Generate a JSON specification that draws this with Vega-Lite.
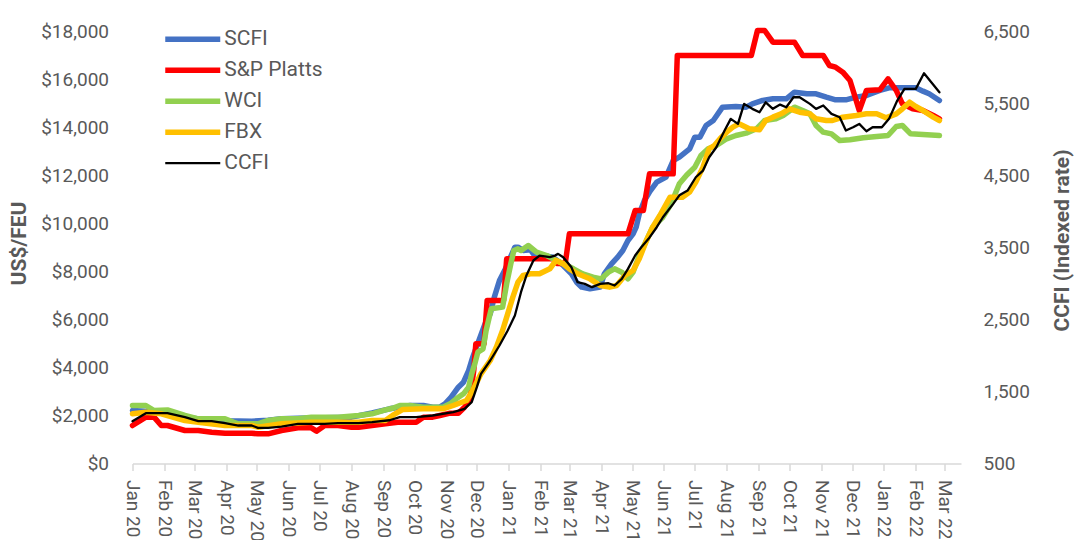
{
  "$schema": "https://vega.github.io/schema/vega-lite/v6.json",
  "width": 828.5,
  "height": 432.5,
  "autosize": {"type": "none"},
  "padding": {"left": 132.5, "top": 31, "right": 114, "bottom": 76.5},
  "background": "white",
  "config": {
    "view": {"stroke": null},
    "font": "Roboto",
    "axis": {"labelColor": "#595959", "titleColor": "#595959", "labelFontSize": 19, "grid": false, "labelFont": "Roboto", "titleFont": "Roboto"},
    "legend": {
      "orient": "none", "legendX": 29.75, "legendY": -7, "title": null, "columns": 1,
      "symbolType": "stroke", "symbolSize": 3025, "labelFontSize": 21, "labelColor": "#595959",
      "labelOffset": 1, "rowPadding": 0, "clipHeight": 30.3, "padding": 0, "labelFont": "Roboto"
    }
  },
  "datasets": {
    "left": [
      {"s":"SCFI","d":"2020-01-01","v":2206},{"s":"SCFI","d":"2020-01-22","v":2150},{"s":"SCFI","d":"2020-02-04","v":2100},{"s":"SCFI","d":"2020-02-21","v":1950},{"s":"SCFI","d":"2020-03-05","v":1850},{"s":"SCFI","d":"2020-03-31","v":1780},{"s":"SCFI","d":"2020-04-26","v":1760},{"s":"SCFI","d":"2020-05-12","v":1800},{"s":"SCFI","d":"2020-05-25","v":1860},{"s":"SCFI","d":"2020-06-10","v":1880},{"s":"SCFI","d":"2020-07-06","v":1900},{"s":"SCFI","d":"2020-08-01","v":1930},{"s":"SCFI","d":"2020-08-21","v":2100},{"s":"SCFI","d":"2020-09-07","v":2275},{"s":"SCFI","d":"2020-09-27","v":2414},{"s":"SCFI","d":"2020-10-10","v":2414},{"s":"SCFI","d":"2020-10-19","v":2344},{"s":"SCFI","d":"2020-10-26","v":2344},{"s":"SCFI","d":"2020-10-31","v":2483},{"s":"SCFI","d":"2020-11-06","v":2761},{"s":"SCFI","d":"2020-11-13","v":3177},{"s":"SCFI","d":"2020-11-18","v":3385},{"s":"SCFI","d":"2020-11-23","v":3871},{"s":"SCFI","d":"2020-11-27","v":4426},{"s":"SCFI","d":"2020-12-03","v":5119},{"s":"SCFI","d":"2020-12-09","v":5813},{"s":"SCFI","d":"2020-12-14","v":6229},{"s":"SCFI","d":"2020-12-18","v":6923},{"s":"SCFI","d":"2020-12-23","v":7616},{"s":"SCFI","d":"2020-12-28","v":8033},{"s":"SCFI","d":"2021-01-02","v":8518},{"s":"SCFI","d":"2021-01-07","v":9004},{"s":"SCFI","d":"2021-01-10","v":9004},{"s":"SCFI","d":"2021-01-15","v":8865},{"s":"SCFI","d":"2021-01-22","v":8900},{"s":"SCFI","d":"2021-01-25","v":8727},{"s":"SCFI","d":"2021-02-03","v":8657},{"s":"SCFI","d":"2021-02-13","v":8588},{"s":"SCFI","d":"2021-02-23","v":8241},{"s":"SCFI","d":"2021-03-03","v":7894},{"s":"SCFI","d":"2021-03-08","v":7547},{"s":"SCFI","d":"2021-03-13","v":7339},{"s":"SCFI","d":"2021-03-21","v":7269},{"s":"SCFI","d":"2021-03-31","v":7339},{"s":"SCFI","d":"2021-04-04","v":7894},{"s":"SCFI","d":"2021-04-11","v":8310},{"s":"SCFI","d":"2021-04-17","v":8588},{"s":"SCFI","d":"2021-04-22","v":8865},{"s":"SCFI","d":"2021-04-27","v":9281},{"s":"SCFI","d":"2021-05-02","v":9559},{"s":"SCFI","d":"2021-05-05","v":9836},{"s":"SCFI","d":"2021-05-08","v":10391},{"s":"SCFI","d":"2021-05-13","v":10946},{"s":"SCFI","d":"2021-05-18","v":11300},{"s":"SCFI","d":"2021-05-25","v":11709},{"s":"SCFI","d":"2021-06-03","v":11917},{"s":"SCFI","d":"2021-06-10","v":12611},{"s":"SCFI","d":"2021-06-16","v":12750},{"s":"SCFI","d":"2021-06-26","v":13097},{"s":"SCFI","d":"2021-07-01","v":13582},{"s":"SCFI","d":"2021-07-06","v":13582},{"s":"SCFI","d":"2021-07-12","v":14067},{"s":"SCFI","d":"2021-07-19","v":14275},{"s":"SCFI","d":"2021-07-28","v":14830},{"s":"SCFI","d":"2021-08-10","v":14858},{"s":"SCFI","d":"2021-08-20","v":14830},{"s":"SCFI","d":"2021-08-26","v":14969},{"s":"SCFI","d":"2021-09-05","v":15108},{"s":"SCFI","d":"2021-09-15","v":15178},{"s":"SCFI","d":"2021-09-28","v":15178},{"s":"SCFI","d":"2021-10-06","v":15455},{"s":"SCFI","d":"2021-10-18","v":15386},{"s":"SCFI","d":"2021-10-27","v":15386},{"s":"SCFI","d":"2021-11-06","v":15247},{"s":"SCFI","d":"2021-11-15","v":15136},{"s":"SCFI","d":"2021-11-25","v":15136},{"s":"SCFI","d":"2021-12-05","v":15247},{"s":"SCFI","d":"2021-12-15","v":15316},{"s":"SCFI","d":"2021-12-28","v":15525},{"s":"SCFI","d":"2022-01-06","v":15636},{"s":"SCFI","d":"2022-01-19","v":15636},{"s":"SCFI","d":"2022-02-01","v":15636},{"s":"SCFI","d":"2022-02-08","v":15497},{"s":"SCFI","d":"2022-02-14","v":15386},{"s":"SCFI","d":"2022-02-24","v":15108},
      {"s":"S&P Platts","d":"2020-01-01","v":1582},{"s":"S&P Platts","d":"2020-01-14","v":1928},{"s":"S&P Platts","d":"2020-01-22","v":1928},{"s":"S&P Platts","d":"2020-01-29","v":1582},{"s":"S&P Platts","d":"2020-02-04","v":1582},{"s":"S&P Platts","d":"2020-02-21","v":1373},{"s":"S&P Platts","d":"2020-03-05","v":1373},{"s":"S&P Platts","d":"2020-03-18","v":1304},{"s":"S&P Platts","d":"2020-03-31","v":1262},{"s":"S&P Platts","d":"2020-04-26","v":1262},{"s":"S&P Platts","d":"2020-05-02","v":1235},{"s":"S&P Platts","d":"2020-05-12","v":1235},{"s":"S&P Platts","d":"2020-05-25","v":1373},{"s":"S&P Platts","d":"2020-06-10","v":1484},{"s":"S&P Platts","d":"2020-06-23","v":1484},{"s":"S&P Platts","d":"2020-06-28","v":1346},{"s":"S&P Platts","d":"2020-07-06","v":1582},{"s":"S&P Platts","d":"2020-07-19","v":1582},{"s":"S&P Platts","d":"2020-08-01","v":1512},{"s":"S&P Platts","d":"2020-08-08","v":1512},{"s":"S&P Platts","d":"2020-08-21","v":1582},{"s":"S&P Platts","d":"2020-09-03","v":1651},{"s":"S&P Platts","d":"2020-09-15","v":1720},{"s":"S&P Platts","d":"2020-10-03","v":1720},{"s":"S&P Platts","d":"2020-10-10","v":1928},{"s":"S&P Platts","d":"2020-10-19","v":1928},{"s":"S&P Platts","d":"2020-10-26","v":1998},{"s":"S&P Platts","d":"2020-11-05","v":2095},{"s":"S&P Platts","d":"2020-11-13","v":2095},{"s":"S&P Platts","d":"2020-11-19","v":2344},{"s":"S&P Platts","d":"2020-11-24","v":2622},{"s":"S&P Platts","d":"2020-11-28","v":3871},{"s":"S&P Platts","d":"2020-11-30","v":4981},{"s":"S&P Platts","d":"2020-12-08","v":4981},{"s":"S&P Platts","d":"2020-12-11","v":6784},{"s":"S&P Platts","d":"2020-12-27","v":6784},{"s":"S&P Platts","d":"2020-12-30","v":8518},{"s":"S&P Platts","d":"2021-02-14","v":8518},{"s":"S&P Platts","d":"2021-02-17","v":8324},{"s":"S&P Platts","d":"2021-02-25","v":8324},{"s":"S&P Platts","d":"2021-03-01","v":9559},{"s":"S&P Platts","d":"2021-04-27","v":9559},{"s":"S&P Platts","d":"2021-05-04","v":10530},{"s":"S&P Platts","d":"2021-05-12","v":10530},{"s":"S&P Platts","d":"2021-05-18","v":12056},{"s":"S&P Platts","d":"2021-06-10","v":12056},{"s":"S&P Platts","d":"2021-06-14","v":16981},{"s":"S&P Platts","d":"2021-08-25","v":16981},{"s":"S&P Platts","d":"2021-08-31","v":18021},{"s":"S&P Platts","d":"2021-09-07","v":18021},{"s":"S&P Platts","d":"2021-09-15","v":17536},{"s":"S&P Platts","d":"2021-10-06","v":17536},{"s":"S&P Platts","d":"2021-10-14","v":16981},{"s":"S&P Platts","d":"2021-11-03","v":16981},{"s":"S&P Platts","d":"2021-11-09","v":16565},{"s":"S&P Platts","d":"2021-11-15","v":16496},{"s":"S&P Platts","d":"2021-11-22","v":16288},{"s":"S&P Platts","d":"2021-11-29","v":15941},{"s":"S&P Platts","d":"2021-12-03","v":15386},{"s":"S&P Platts","d":"2021-12-08","v":14692},{"s":"S&P Platts","d":"2021-12-15","v":15525},{"s":"S&P Platts","d":"2021-12-28","v":15553},{"s":"S&P Platts","d":"2022-01-05","v":16010},{"s":"S&P Platts","d":"2022-01-13","v":15525},{"s":"S&P Platts","d":"2022-01-19","v":14969},{"s":"S&P Platts","d":"2022-01-29","v":14761},{"s":"S&P Platts","d":"2022-02-08","v":14692},{"s":"S&P Platts","d":"2022-02-18","v":14484},{"s":"S&P Platts","d":"2022-02-24","v":14345},
      {"s":"WCI","d":"2020-01-01","v":2414},{"s":"WCI","d":"2020-01-14","v":2414},{"s":"WCI","d":"2020-01-22","v":2206},{"s":"WCI","d":"2020-02-04","v":2230},{"s":"WCI","d":"2020-02-21","v":1998},{"s":"WCI","d":"2020-03-05","v":1859},{"s":"WCI","d":"2020-03-31","v":1859},{"s":"WCI","d":"2020-04-08","v":1720},{"s":"WCI","d":"2020-04-13","v":1651},{"s":"WCI","d":"2020-05-02","v":1651},{"s":"WCI","d":"2020-05-12","v":1790},{"s":"WCI","d":"2020-05-25","v":1859},{"s":"WCI","d":"2020-06-10","v":1859},{"s":"WCI","d":"2020-06-23","v":1928},{"s":"WCI","d":"2020-07-19","v":1928},{"s":"WCI","d":"2020-08-08","v":1998},{"s":"WCI","d":"2020-08-21","v":2067},{"s":"WCI","d":"2020-09-03","v":2230},{"s":"WCI","d":"2020-09-10","v":2300},{"s":"WCI","d":"2020-09-17","v":2414},{"s":"WCI","d":"2020-09-27","v":2414},{"s":"WCI","d":"2020-10-10","v":2344},{"s":"WCI","d":"2020-10-29","v":2344},{"s":"WCI","d":"2020-11-05","v":2483},{"s":"WCI","d":"2020-11-11","v":2691},{"s":"WCI","d":"2020-11-18","v":2900},{"s":"WCI","d":"2020-11-23","v":3177},{"s":"WCI","d":"2020-11-26","v":3732},{"s":"WCI","d":"2020-11-29","v":4148},{"s":"WCI","d":"2020-12-02","v":4634},{"s":"WCI","d":"2020-12-07","v":4772},{"s":"WCI","d":"2020-12-10","v":5535},{"s":"WCI","d":"2020-12-15","v":6437},{"s":"WCI","d":"2020-12-26","v":6507},{"s":"WCI","d":"2020-12-30","v":7478},{"s":"WCI","d":"2021-01-03","v":8310},{"s":"WCI","d":"2021-01-06","v":8865},{"s":"WCI","d":"2021-01-10","v":8934},{"s":"WCI","d":"2021-01-13","v":8865},{"s":"WCI","d":"2021-01-20","v":9073},{"s":"WCI","d":"2021-01-28","v":8796},{"s":"WCI","d":"2021-02-07","v":8657},{"s":"WCI","d":"2021-02-13","v":8518},{"s":"WCI","d":"2021-02-23","v":8310},{"s":"WCI","d":"2021-03-05","v":8102},{"s":"WCI","d":"2021-03-14","v":7894},{"s":"WCI","d":"2021-03-24","v":7755},{"s":"WCI","d":"2021-04-01","v":7686},{"s":"WCI","d":"2021-04-08","v":7963},{"s":"WCI","d":"2021-04-14","v":8102},{"s":"WCI","d":"2021-04-21","v":7963},{"s":"WCI","d":"2021-04-27","v":7686},{"s":"WCI","d":"2021-05-02","v":7963},{"s":"WCI","d":"2021-05-08","v":8657},{"s":"WCI","d":"2021-05-15","v":9281},{"s":"WCI","d":"2021-05-21","v":9836},{"s":"WCI","d":"2021-05-31","v":10252},{"s":"WCI","d":"2021-06-08","v":10807},{"s":"WCI","d":"2021-06-16","v":11640},{"s":"WCI","d":"2021-06-23","v":12000},{"s":"WCI","d":"2021-07-01","v":12333},{"s":"WCI","d":"2021-07-07","v":12819},{"s":"WCI","d":"2021-07-14","v":13097},{"s":"WCI","d":"2021-07-22","v":13235},{"s":"WCI","d":"2021-08-01","v":13513},{"s":"WCI","d":"2021-08-10","v":13651},{"s":"WCI","d":"2021-08-20","v":13748},{"s":"WCI","d":"2021-08-30","v":13929},{"s":"WCI","d":"2021-09-07","v":14275},{"s":"WCI","d":"2021-09-18","v":14345},{"s":"WCI","d":"2021-09-25","v":14484},{"s":"WCI","d":"2021-10-06","v":14830},{"s":"WCI","d":"2021-10-14","v":14692},{"s":"WCI","d":"2021-10-21","v":14553},{"s":"WCI","d":"2021-10-27","v":14067},{"s":"WCI","d":"2021-11-03","v":13790},{"s":"WCI","d":"2021-11-11","v":13720},{"s":"WCI","d":"2021-11-19","v":13443},{"s":"WCI","d":"2021-11-29","v":13471},{"s":"WCI","d":"2021-12-12","v":13554},{"s":"WCI","d":"2021-12-25","v":13610},{"s":"WCI","d":"2022-01-05","v":13651},{"s":"WCI","d":"2022-01-13","v":14026},{"s":"WCI","d":"2022-01-19","v":14067},{"s":"WCI","d":"2022-01-27","v":13720},{"s":"WCI","d":"2022-02-08","v":13693},{"s":"WCI","d":"2022-02-24","v":13651},
      {"s":"FBX","d":"2020-01-01","v":2067},{"s":"FBX","d":"2020-01-14","v":2136},{"s":"FBX","d":"2020-01-29","v":2067},{"s":"FBX","d":"2020-02-21","v":1790},{"s":"FBX","d":"2020-03-05","v":1720},{"s":"FBX","d":"2020-03-31","v":1582},{"s":"FBX","d":"2020-04-26","v":1582},{"s":"FBX","d":"2020-05-02","v":1512},{"s":"FBX","d":"2020-05-25","v":1651},{"s":"FBX","d":"2020-06-23","v":1720},{"s":"FBX","d":"2020-08-08","v":1720},{"s":"FBX","d":"2020-08-21","v":1790},{"s":"FBX","d":"2020-09-03","v":1790},{"s":"FBX","d":"2020-09-10","v":2000},{"s":"FBX","d":"2020-09-20","v":2250},{"s":"FBX","d":"2020-10-10","v":2275},{"s":"FBX","d":"2020-10-29","v":2275},{"s":"FBX","d":"2020-11-08","v":2414},{"s":"FBX","d":"2020-11-21","v":2622},{"s":"FBX","d":"2020-11-27","v":3038},{"s":"FBX","d":"2020-12-05","v":3732},{"s":"FBX","d":"2020-12-14","v":4287},{"s":"FBX","d":"2020-12-20","v":4842},{"s":"FBX","d":"2020-12-26","v":5535},{"s":"FBX","d":"2020-12-31","v":6229},{"s":"FBX","d":"2021-01-05","v":6923},{"s":"FBX","d":"2021-01-10","v":7547},{"s":"FBX","d":"2021-01-15","v":7825},{"s":"FBX","d":"2021-01-22","v":7894},{"s":"FBX","d":"2021-01-31","v":7894},{"s":"FBX","d":"2021-02-10","v":8102},{"s":"FBX","d":"2021-02-16","v":8449},{"s":"FBX","d":"2021-02-23","v":8310},{"s":"FBX","d":"2021-03-01","v":8102},{"s":"FBX","d":"2021-03-09","v":7894},{"s":"FBX","d":"2021-03-21","v":7686},{"s":"FBX","d":"2021-03-31","v":7408},{"s":"FBX","d":"2021-04-09","v":7339},{"s":"FBX","d":"2021-04-16","v":7408},{"s":"FBX","d":"2021-04-24","v":7825},{"s":"FBX","d":"2021-05-02","v":8033},{"s":"FBX","d":"2021-05-08","v":8518},{"s":"FBX","d":"2021-05-15","v":9281},{"s":"FBX","d":"2021-05-21","v":9836},{"s":"FBX","d":"2021-05-28","v":10322},{"s":"FBX","d":"2021-06-07","v":11085},{"s":"FBX","d":"2021-06-19","v":11085},{"s":"FBX","d":"2021-06-26","v":11300},{"s":"FBX","d":"2021-07-02","v":11709},{"s":"FBX","d":"2021-07-09","v":12333},{"s":"FBX","d":"2021-07-15","v":13097},{"s":"FBX","d":"2021-07-20","v":13235},{"s":"FBX","d":"2021-07-27","v":13582},{"s":"FBX","d":"2021-08-01","v":13790},{"s":"FBX","d":"2021-08-07","v":13998},{"s":"FBX","d":"2021-08-13","v":14137},{"s":"FBX","d":"2021-08-23","v":13929},{"s":"FBX","d":"2021-09-02","v":13887},{"s":"FBX","d":"2021-09-08","v":14275},{"s":"FBX","d":"2021-09-15","v":14414},{"s":"FBX","d":"2021-09-23","v":14553},{"s":"FBX","d":"2021-10-01","v":14761},{"s":"FBX","d":"2021-10-11","v":14622},{"s":"FBX","d":"2021-10-21","v":14553},{"s":"FBX","d":"2021-10-27","v":14345},{"s":"FBX","d":"2021-11-06","v":14275},{"s":"FBX","d":"2021-11-12","v":14275},{"s":"FBX","d":"2021-11-22","v":14414},{"s":"FBX","d":"2021-12-05","v":14484},{"s":"FBX","d":"2021-12-15","v":14553},{"s":"FBX","d":"2021-12-25","v":14553},{"s":"FBX","d":"2022-01-03","v":14386},{"s":"FBX","d":"2022-01-13","v":14553},{"s":"FBX","d":"2022-01-19","v":14761},{"s":"FBX","d":"2022-01-26","v":15039},{"s":"FBX","d":"2022-02-01","v":14858},{"s":"FBX","d":"2022-02-08","v":14692},{"s":"FBX","d":"2022-02-18","v":14414},{"s":"FBX","d":"2022-02-24","v":14275}
    ],
    "ccfi": [
      {"s":"CCFI","d":"2020-01-01","v":1087},{"s":"CCFI","d":"2020-01-14","v":1198},{"s":"CCFI","d":"2020-02-04","v":1198},{"s":"CCFI","d":"2020-02-21","v":1142},{"s":"CCFI","d":"2020-03-05","v":1087},{"s":"CCFI","d":"2020-03-18","v":1087},{"s":"CCFI","d":"2020-03-31","v":1059},{"s":"CCFI","d":"2020-04-13","v":1027},{"s":"CCFI","d":"2020-04-26","v":1027},{"s":"CCFI","d":"2020-05-02","v":995},{"s":"CCFI","d":"2020-05-12","v":995},{"s":"CCFI","d":"2020-05-25","v":1013},{"s":"CCFI","d":"2020-06-10","v":1051},{"s":"CCFI","d":"2020-07-06","v":1051},{"s":"CCFI","d":"2020-07-19","v":1059},{"s":"CCFI","d":"2020-08-08","v":1059},{"s":"CCFI","d":"2020-08-21","v":1073},{"s":"CCFI","d":"2020-09-07","v":1100},{"s":"CCFI","d":"2020-09-17","v":1142},{"s":"CCFI","d":"2020-10-03","v":1142},{"s":"CCFI","d":"2020-10-19","v":1166},{"s":"CCFI","d":"2020-11-08","v":1212},{"s":"CCFI","d":"2020-11-19","v":1258},{"s":"CCFI","d":"2020-11-26","v":1351},{"s":"CCFI","d":"2020-12-01","v":1559},{"s":"CCFI","d":"2020-12-05","v":1744},{"s":"CCFI","d":"2020-12-14","v":1929},{"s":"CCFI","d":"2020-12-23","v":2137},{"s":"CCFI","d":"2020-12-31","v":2345},{"s":"CCFI","d":"2021-01-07","v":2553},{"s":"CCFI","d":"2021-01-13","v":2880},{"s":"CCFI","d":"2021-01-18","v":3100},{"s":"CCFI","d":"2021-01-25","v":3316},{"s":"CCFI","d":"2021-01-31","v":3385},{"s":"CCFI","d":"2021-02-10","v":3362},{"s":"CCFI","d":"2021-02-15","v":3385},{"s":"CCFI","d":"2021-02-18","v":3408},{"s":"CCFI","d":"2021-02-23","v":3362},{"s":"CCFI","d":"2021-03-03","v":3223},{"s":"CCFI","d":"2021-03-09","v":3015},{"s":"CCFI","d":"2021-03-16","v":2992},{"s":"CCFI","d":"2021-03-23","v":2946},{"s":"CCFI","d":"2021-03-31","v":2992},{"s":"CCFI","d":"2021-04-08","v":3001},{"s":"CCFI","d":"2021-04-14","v":2969},{"s":"CCFI","d":"2021-04-21","v":3062},{"s":"CCFI","d":"2021-04-27","v":3200},{"s":"CCFI","d":"2021-05-04","v":3385},{"s":"CCFI","d":"2021-05-10","v":3500},{"s":"CCFI","d":"2021-05-17","v":3617},{"s":"CCFI","d":"2021-05-25","v":3778},{"s":"CCFI","d":"2021-05-31","v":3916},{"s":"CCFI","d":"2021-06-10","v":4102},{"s":"CCFI","d":"2021-06-16","v":4220},{"s":"CCFI","d":"2021-06-24","v":4287},{"s":"CCFI","d":"2021-07-02","v":4471},{"s":"CCFI","d":"2021-07-09","v":4564},{"s":"CCFI","d":"2021-07-15","v":4749},{"s":"CCFI","d":"2021-07-22","v":4887},{"s":"CCFI","d":"2021-07-30","v":5119},{"s":"CCFI","d":"2021-08-05","v":5281},{"s":"CCFI","d":"2021-08-12","v":5211},{"s":"CCFI","d":"2021-08-18","v":5489},{"s":"CCFI","d":"2021-08-26","v":5420},{"s":"CCFI","d":"2021-09-02","v":5373},{"s":"CCFI","d":"2021-09-08","v":5511},{"s":"CCFI","d":"2021-09-15","v":5420},{"s":"CCFI","d":"2021-09-22","v":5479},{"s":"CCFI","d":"2021-09-28","v":5442},{"s":"CCFI","d":"2021-10-05","v":5581},{"s":"CCFI","d":"2021-10-11","v":5581},{"s":"CCFI","d":"2021-10-21","v":5489},{"s":"CCFI","d":"2021-10-27","v":5420},{"s":"CCFI","d":"2021-11-03","v":5466},{"s":"CCFI","d":"2021-11-11","v":5350},{"s":"CCFI","d":"2021-11-19","v":5303},{"s":"CCFI","d":"2021-11-25","v":5119},{"s":"CCFI","d":"2021-12-02","v":5165},{"s":"CCFI","d":"2021-12-08","v":5211},{"s":"CCFI","d":"2021-12-15","v":5109},{"s":"CCFI","d":"2021-12-21","v":5165},{"s":"CCFI","d":"2021-12-30","v":5165},{"s":"CCFI","d":"2022-01-06","v":5281},{"s":"CCFI","d":"2022-01-14","v":5535},{"s":"CCFI","d":"2022-01-21","v":5697},{"s":"CCFI","d":"2022-02-01","v":5697},{"s":"CCFI","d":"2022-02-09","v":5914},{"s":"CCFI","d":"2022-02-24","v":5650}
    ]
  },
  "encoding": {
    "x": {
      "field": "d", "type": "temporal",
      "scale": {"type": "utc", "domain": ["2020-01-01", "2022-03-17"]},
      "axis": {
        "title": null,
        "values": ["2020-01-01","2020-02-01","2020-03-01","2020-04-01","2020-05-01","2020-06-01","2020-07-01","2020-08-01","2020-09-01","2020-10-01","2020-11-01","2020-12-01","2021-01-01","2021-02-01","2021-03-01","2021-04-01","2021-05-01","2021-06-01","2021-07-01","2021-08-01","2021-09-01","2021-10-01","2021-11-01","2021-12-01","2022-01-01","2022-02-01","2022-03-01"],
        "labelExpr": "utcFormat(datum.value, '%b %y')",
        "labelAngle": 90, "labelAlign": "left", "labelBaseline": "middle",
        "domainColor": "#d9d9d9", "domainWidth": 1.5, "tickColor": "#d9d9d9", "tickWidth": 1.5, "tickSize": 7,
        "labelPadding": 9, "labelOverlap": false, "labelFlush": false
      }
    },
    "color": {
      "field": "s", "type": "nominal",
      "scale": {"domain": ["SCFI", "S&P Platts", "WCI", "FBX", "CCFI"], "range": ["#4472C4", "#FF0000", "#92D050", "#FFC000", "#000000"]}
    },
    "strokeWidth": {
      "field": "s", "type": "nominal",
      "scale": {"type": "ordinal", "domain": ["SCFI", "S&P Platts", "WCI", "FBX", "CCFI"], "range": [5.5, 5.5, 5.5, 5.5, 2.3]}
    }
  },
  "layer": [
    {
      "data": {"name": "left"},
      "mark": {"type": "line", "strokeJoin": "round", "strokeCap": "round"},
      "encoding": {
        "y": {
          "field": "v", "type": "quantitative",
          "scale": {"domain": [0, 18000], "nice": false, "zero": false},
          "axis": {
            "values": [0,2000,4000,6000,8000,10000,12000,14000,16000,18000],
            "format": "$,.0f", "domain": false, "ticks": false, "labelPadding": 24,
            "title": "US$/FEU", "titleFontSize": 21, "titleFontWeight": "bold",
            "titleAngle": -90, "titleX": -113.5, "titleY": 212, "titleAlign": "center", "titleBaseline": "middle"
          }
        }
      }
    },
    {
      "data": {"name": "ccfi"},
      "mark": {"type": "line", "strokeJoin": "round", "strokeCap": "round"},
      "encoding": {
        "y": {
          "field": "v", "type": "quantitative",
          "scale": {"domain": [500, 6500], "nice": false, "zero": false},
          "axis": {
            "orient": "right",
            "values": [500,1500,2500,3500,4500,5500,6500],
            "format": ",.0f", "domain": false, "ticks": false, "labelPadding": 22,
            "title": "CCFI (Indexed rate)", "titleFontSize": 21, "titleFontWeight": "bold",
            "titleAngle": -90, "titleX": 101, "titleY": 209, "titleAlign": "center", "titleBaseline": "middle"
          }
        }
      }
    }
  ],
  "resolve": {"scale": {"y": "independent"}}
}
